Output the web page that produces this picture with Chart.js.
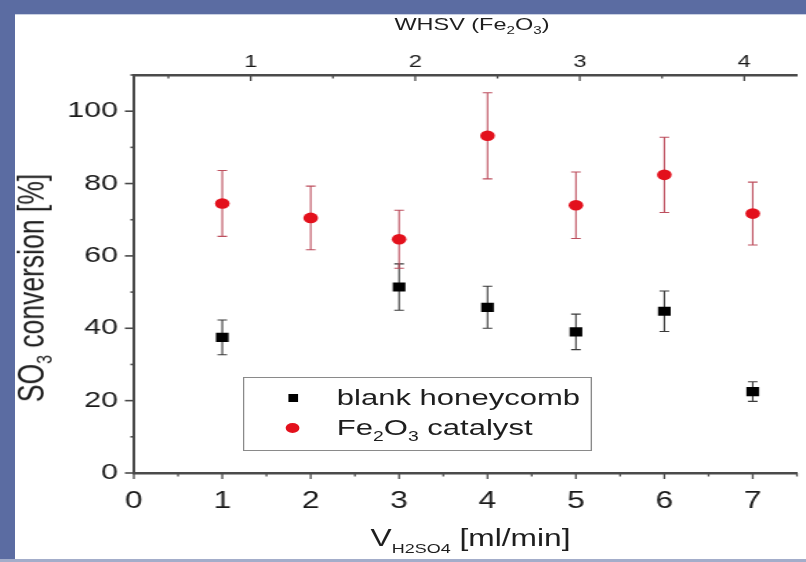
<!DOCTYPE html>
<html>
<head>
<meta charset="utf-8">
<script src="https://cdn.jsdelivr.net/npm/chart.js@4.4.1/dist/chart.umd.min.js"></script>
<style>
html,body{margin:0;padding:0;width:806px;height:562px;overflow:hidden;background:#5b6ca2;}
#panel{position:absolute;left:15px;top:14px;width:791px;height:545px;background:#fff;border-top:1px solid #c9d0e2;box-sizing:border-box;}
#bottomstrip{position:absolute;left:0;top:559px;width:806px;height:3px;background:#a3adca;}
#stage{position:absolute;left:0;top:0;width:584px;height:562px;transform:scaleX(1.38);transform-origin:0 0;font-family:'Liberation Sans',Arial,sans-serif;color:#1e1e1e;}
#stage canvas{position:absolute;left:0;top:0;}
.t{position:absolute;white-space:nowrap;line-height:1;}
.t sub{vertical-align:baseline;position:relative;}
#topTitle{left:342px;top:24px;transform:translate(-50%,-50%);font-size:17px;}
#topTitle sub{font-size:11px;top:4px;}
#yTitle{left:23px;top:288px;transform:translate(-50%,-50%) rotate(-90deg);font-size:26.5px;}
#yTitle sub{font-size:16px;top:6px;}
#xTitle{left:341px;top:538px;transform:translate(-50%,-50%);font-size:23px;}
#xTitle sub{font-size:13px;top:7px;}
#legend{position:absolute;left:176px;top:377px;width:253px;height:74px;border:1.5px solid #8a8a8a;box-sizing:border-box;}
.lrow{position:absolute;left:0;width:100%;height:30px;}
.lmark{position:absolute;}
.ltext{position:absolute;left:67px;top:50%;transform:translateY(-50%);font-size:22.5px;white-space:nowrap;line-height:1;}
.ltext sub{font-size:14px;vertical-align:baseline;position:relative;top:6px;}
</style>
</head>
<body>
<div id="panel"></div>
<div id="bottomstrip"></div>
<div id="stage">
  <canvas id="c" width="584" height="562"></canvas>
  <div class="t" id="topTitle">WHSV (Fe<sub>2</sub>O<sub>3</sub>)</div>
  <div class="t" id="yTitle">SO<sub>3</sub> conversion [%]</div>
  <div class="t" id="xTitle">V<sub>H2SO4</sub> [ml/min]</div>
  <div id="legend">
    <div class="lrow" style="top:5px;">
      <div class="lmark" style="left:32px;top:11px;width:7px;height:8px;background:#000;"></div>
      <div class="ltext">blank honeycomb</div>
    </div>
    <div class="lrow" style="top:35px;">
      <div class="lmark" style="left:30px;top:10px;width:10px;height:10px;border-radius:50%;background:#e3101c;"></div>
      <div class="ltext">Fe<sub>2</sub>O<sub>3</sub> catalyst</div>
    </div>
  </div>
</div>
<script>
// ---- data ----
const flowRates = [1, 2, 3, 4, 5, 6, 7];
const blankConversion = [37.5, null, 51.4, 45.8, 39.0, 44.7, 22.5];
const blankError = [4.8, null, 6.4, 5.8, 4.9, 5.6, 2.7];
const fe2o3Conversion = [74.5, 70.5, 64.6, 93.2, 74.0, 82.4, 71.7];
const fe2o3Error = [9.1, 8.8, 8.0, 11.9, 9.2, 10.4, 8.7];
const seriesLabels = ['blank honeycomb', 'Fe2O3 catalyst'];

// ---- ticks ----
const xTickValues = [0, 0.5, 1, 1.5, 2, 2.5, 3, 3.5, 4, 4.5, 5, 5.5, 6, 6.5, 7, 7.5];
const yTickValues = [0, 10, 20, 30, 40, 50, 60, 70, 80, 90, 100, 110];
const yLabelValues = [0, 20, 40, 60, 80, 100];
const whsvTickValues = [0.5, 1, 1.5, 2, 2.5, 3, 3.5, 4];
const whsvLabelValues = [1, 2, 3, 4];
const xRange = [0, 7.5];
const yRange = [0, 110];
const whsvRange = [0.29, 4.32];

const AXIS = '#4a4a4a';
const LABEL = '#1a1a1a';
const FONT = "'Liberation Sans', Arial, sans-serif";

function pts(xs, ys) {
  const out = [];
  xs.forEach((x, i) => { if (ys[i] !== null) out.push({x: x, y: ys[i]}); });
  return out;
}

const errorBars = {
  id: 'errorBars',
  beforeDatasetsDraw(chart) {
    const ctx = chart.ctx, xs = chart.scales.x, ys = chart.scales.y;
    const sets = [[blankConversion, blankError, '#3a3a3a'], [fe2o3Conversion, fe2o3Error, 'rgba(185,70,85,0.95)']];
    ctx.save();
    ctx.lineWidth = 1.1;
    sets.forEach(([vals, errs, col]) => {
      ctx.strokeStyle = col;
      vals.forEach((v, i) => {
        if (v === null) return;
        const px = xs.getPixelForValue(flowRates[i]);
        const top = ys.getPixelForValue(v + errs[i]);
        const bot = ys.getPixelForValue(v - errs[i]);
        ctx.beginPath();
        ctx.moveTo(px, top); ctx.lineTo(px, bot);
        ctx.moveTo(px - 3.5, top); ctx.lineTo(px + 3.5, top);
        ctx.moveTo(px - 3.5, bot); ctx.lineTo(px + 3.5, bot);
        ctx.stroke();
      });
    });
    ctx.restore();
  }
};

const tickMarks = {
  id: 'tickMarks',
  afterDraw(chart) {
    const ctx = chart.ctx, a = chart.chartArea;
    const {x, x2, y} = chart.scales;
    ctx.save();
    ctx.strokeStyle = AXIS;
    ctx.lineWidth = 1.6;
    y.ticks.forEach(t => {
      const p = y.getPixelForValue(t.value);
      const major = yLabelValues.includes(t.value);
      ctx.beginPath();
      if (major) { ctx.moveTo(a.left - 6.5, p); ctx.lineTo(a.left, p); }
      else { ctx.moveTo(a.left - 2.5, p); ctx.lineTo(a.left + 1, p); }
      ctx.stroke();
    });
    ctx.lineWidth = 1.3;
    x.ticks.forEach(t => {
      const p = x.getPixelForValue(t.value);
      const major = Number.isInteger(t.value);
      ctx.beginPath();
      ctx.moveTo(p, a.bottom);
      ctx.lineTo(p, a.bottom + (major ? 6 : 3.5));
      ctx.stroke();
    });
    x2.ticks.forEach(t => {
      const p = x2.getPixelForValue(t.value);
      const major = whsvLabelValues.includes(t.value);
      ctx.beginPath();
      ctx.moveTo(p, a.top);
      ctx.lineTo(p, a.top + (major ? 6 : 3.5));
      ctx.stroke();
    });
    ctx.restore();
  }
};

Chart.defaults.font.family = FONT;
Chart.defaults.color = LABEL;

new Chart(document.getElementById('c'), {
  type: 'scatter',
  data: {
    datasets: [
      {
        label: seriesLabels[0],
        data: pts(flowRates, blankConversion),
        pointStyle: 'rect',
        pointRadius: 6.5,
        backgroundColor: '#000',
        borderColor: '#000',
        borderWidth: 0,
        xAxisID: 'x', yAxisID: 'y'
      },
      {
        label: seriesLabels[1],
        data: pts(flowRates, fe2o3Conversion),
        pointStyle: 'circle',
        pointRadius: 5.3,
        backgroundColor: '#e3101c',
        borderColor: '#e3101c',
        borderWidth: 0,
        xAxisID: 'x', yAxisID: 'y'
      }
    ]
  },
  options: {
    responsive: false,
    animation: false,
    events: [],
    layout: {padding: {left: 0, right: 0, top: 0, bottom: 0}},
    plugins: {legend: {display: false}, tooltip: {enabled: false}},
    scales: {
      x: {
        type: 'linear', position: 'bottom',
        min: xRange[0], max: xRange[1],
        afterBuildTicks: s => { s.ticks = xTickValues.map(v => ({value: v})); },
        afterFit: s => { s.height = 89; s.paddingLeft = 0; s.paddingRight = 0; },
        grid: {display: false, drawTicks: false},
        border: {display: true, color: AXIS, width: 2.6},
        ticks: {
          padding: 14.5, color: LABEL, font: {size: 23}, maxRotation: 0, autoSkip: false,
          callback: v => Number.isInteger(v) ? String(v) : ''
        }
      },
      x2: {
        type: 'linear', position: 'top',
        min: whsvRange[0], max: whsvRange[1],
        afterBuildTicks: s => { s.ticks = whsvTickValues.map(v => ({value: v})); },
        afterFit: s => { s.height = 75; s.paddingLeft = 0; s.paddingRight = 0; },
        grid: {display: false, drawTicks: false},
        border: {display: true, color: AXIS, width: 2.6},
        ticks: {
          padding: 2, color: LABEL, font: {size: 17}, maxRotation: 0, autoSkip: false,
          callback: v => whsvLabelValues.includes(v) ? String(v) : ''
        }
      },
      y: {
        type: 'linear', position: 'left',
        min: yRange[0], max: yRange[1],
        afterBuildTicks: s => { s.ticks = yTickValues.map(v => ({value: v})); },
        afterFit: s => { s.width = 97; },
        grid: {display: false, drawTicks: false},
        border: {display: true, color: AXIS, width: 2},
        ticks: {
          padding: 11.5, color: LABEL, font: {size: 22}, autoSkip: false,
          callback: v => yLabelValues.includes(v) ? String(v) : ''
        }
      }
    }
  },
  plugins: [errorBars, tickMarks]
});
</script>
</body>
</html>
